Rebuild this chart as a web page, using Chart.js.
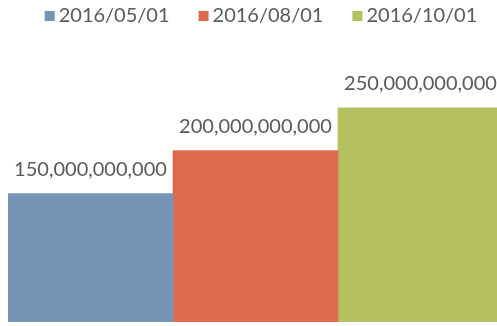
<!DOCTYPE html>
<html>
<head>
<meta charset="utf-8">
<script src="https://cdn.jsdelivr.net/npm/chart.js@4"></script>
<style>
    html, body { margin: 0; padding: 0; background: #fff; overflow: hidden; }
    #contenedor { position: relative; width: 504px; height: 326px; }
</style>
</head>
<body>
<div id="contenedor"><canvas id="myChart"></canvas></div>
<script>
const fechas = ["2016/05/01", "2016/08/01", "2016/10/01"];
const montos = [150000000000, 200000000000, 250000000000];
const ejeMaximo = 300000000000;

const colores = ["#7594b6", "#e06a4f", "#b4c05f"];
const colorTexto = "#5a5a5a";
const fuente = "20px Lato";

// Etiqueta con el monto encima de cada barra
const etiquetasValor = {
    id: "etiquetasValor",
    afterDatasetsDraw(chart) {
        const ctx = chart.ctx;
        ctx.save();
        ctx.font = fuente;
        ctx.fillStyle = colorTexto;
        ctx.textAlign = "center";
        ctx.textBaseline = "alphabetic";
        chart.data.datasets.forEach((ds, i) => {
            const barra = chart.getDatasetMeta(i).data[0];
            const texto = new Intl.NumberFormat("en-US").format(ds.data[0]);
            ctx.fillText(texto, barra.x, barra.y - 18);
        });
        ctx.restore();
    }
};

// Leyenda dibujada a mano: cuadro pequeño pegado al texto
const leyendaFechas = {
    id: "leyendaFechas",
    afterDraw(chart) {
        const ctx = chart.ctx;
        const caja = 10;
        const separacion = 4;
        const entreItems = 29;
        ctx.save();
        ctx.font = fuente;
        ctx.textBaseline = "middle";
        const anchos = chart.data.datasets.map((ds) => caja + separacion + ctx.measureText(ds.label).width);
        const total = anchos.reduce((a, b) => a + b, 0) + entreItems * (anchos.length - 1);
        let x = 261 - total / 2;
        const y = 16;
        chart.data.datasets.forEach((ds, i) => {
            ctx.fillStyle = ds.backgroundColor;
            ctx.fillRect(x, y - caja / 2, caja, caja);
            ctx.fillStyle = colorTexto;
            ctx.fillText(ds.label, x + caja + separacion, y);
            x += anchos[i] + entreItems;
        });
        ctx.restore();
    }
};

function prepararConfiguracion() {
    const datasets = fechas.map((fecha, i) => ({
        label: fecha,
        data: [montos[i]],
        backgroundColor: colores[i],
        borderWidth: 0,
        categoryPercentage: 1,
        barPercentage: 1
    }));
    return {
        type: "bar",
        data: { labels: [""], datasets: datasets },
        options: {
            responsive: true,
            maintainAspectRatio: false,
            animation: false,
            layout: { padding: { top: 65, bottom: 4, left: 8, right: 1 } },
            plugins: {
                legend: { display: false },
                tooltip: { enabled: false }
            },
            scales: {
                x: { display: false },
                y: { display: false, min: 0, max: ejeMaximo }
            }
        },
        plugins: [etiquetasValor, leyendaFechas]
    };
}

function renderGrafica() {
    const chartDOM = document.getElementById("myChart");
    new Chart(chartDOM, prepararConfiguracion());
}

document.fonts.load(fuente).then(renderGrafica, renderGrafica);
</script>
</body>
</html>
